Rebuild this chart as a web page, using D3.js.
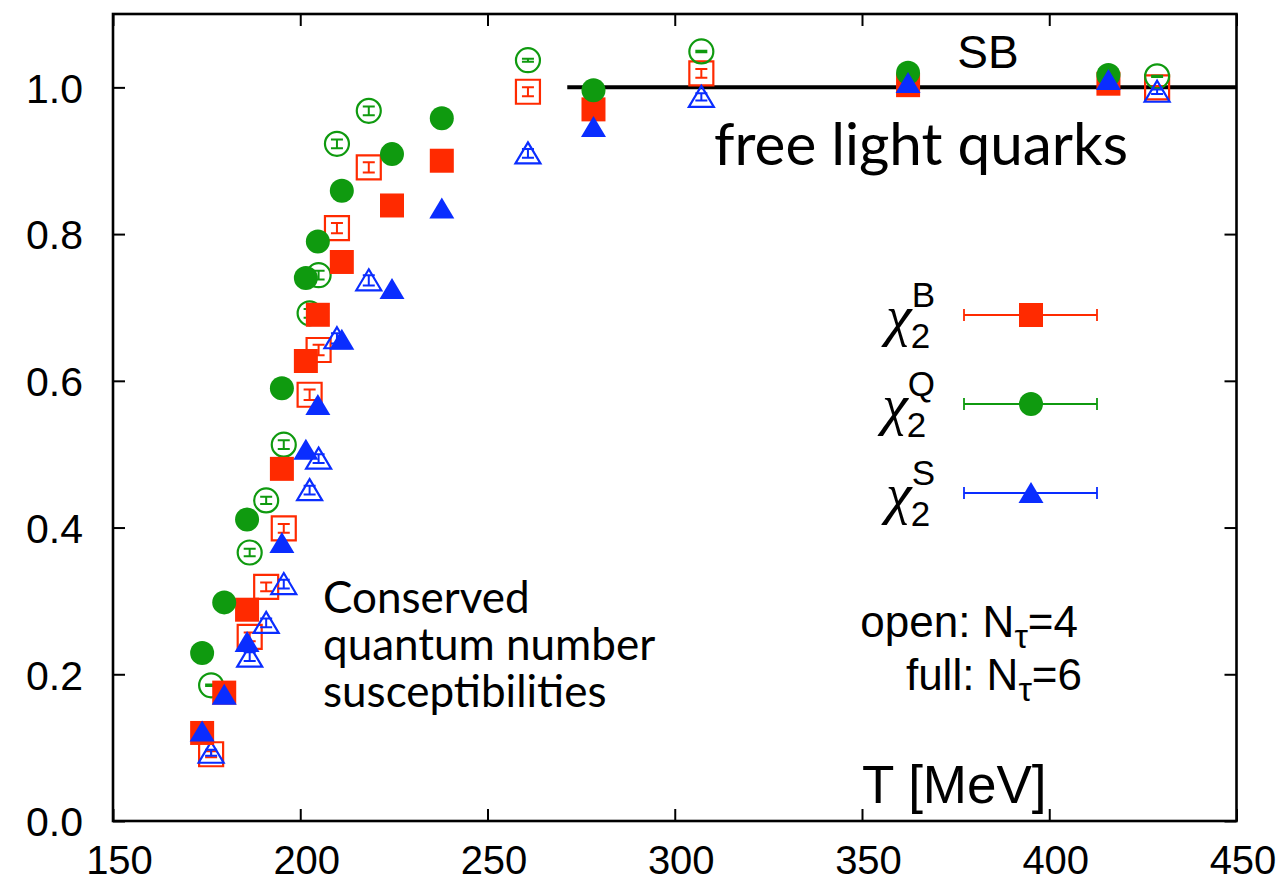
<!DOCTYPE html>
<html>
<head>
<meta charset="utf-8">
<script src="https://cdnjs.cloudflare.com/ajax/libs/d3/7.8.5/d3.min.js"></script>
<style>
	html, body { margin: 0; padding: 0; background: #fff; }
	svg { display: block; }
</style>
</head>
<body>
<svg id="chart" width="1287" height="884"></svg>
<script>
// temperatures [MeV]
var T6 = [173.8, 179.7, 185.8, 195.1, 201.5, 204.7, 211.1, 224.5, 237.8, 278.3, 362.3, 415.8];
var T4 = [176.2, 186.5, 190.9, 195.6, 202.5, 204.9, 209.8, 218.3, 260.8, 307.1, 428.8];

// N_tau = 6 (full symbols)
var chiB6 = [0.120, 0.175, 0.288, 0.480, 0.627, 0.690, 0.762, 0.839, 0.900, 0.970, 1.003, 1.005];
var chiQ6 = [0.229, 0.298, 0.411, 0.590, 0.740, 0.790, 0.859, 0.909, 0.958, 0.996, 1.020, 1.017];
var chiS6 = [0.122, 0.172, 0.244, 0.379, 0.506, 0.567, 0.656, 0.725, 0.835, 0.946, 1.006, 1.010];

// N_tau = 4 (open symbols)
var chiB4 = [0.091, 0.251, 0.319, 0.399, 0.581, 0.642, 0.808, 0.891, 0.994, 1.019, 1.000];
var chiQ4 = [0.185, 0.366, 0.437, 0.513, 0.692, 0.744, 0.923, 0.968, 1.037, 1.049, 1.015];
var chiS4 = [0.093, 0.224, 0.270, 0.323, 0.451, 0.494, 0.658, 0.737, 0.910, 0.987, 0.994];
var errB4 = [0.004, 0.006, 0.006, 0.006, 0.007, 0.007, 0.007, 0.007, 0.006, 0.006, 0.002];
var errQ4 = [0.001, 0.005, 0.005, 0.006, 0.006, 0.006, 0.006, 0.006, 0.002, 0.001, 0.001];
var errS4 = [0.004, 0.006, 0.006, 0.006, 0.006, 0.006, 0.007, 0.007, 0.006, 0.005, 0.003];

// Stefan-Boltzmann limit
var sbT = [271.3, 450];
var sbValue = 1.0;

var xTicks = [150, 200, 250, 300, 350, 400, 450];
var yTicks = [0, 0.2, 0.4, 0.6, 0.8, 1.0];

var series = [
	{ name: "B", shape: "square", color: "#ff2a00", values6: chiB6, values4: chiB4, err4: errB4 },
	{ name: "Q", shape: "circle", color: "#0f9a0f", values6: chiQ6, values4: chiQ4, err4: errQ4 },
	{ name: "S", shape: "triangle", color: "#0a2dff", values6: chiS6, values4: chiS4, err4: errS4 }
];

var svg = d3.select("#chart");
var x = d3.scaleLinear().domain([150, 450]).range([113, 1236.5]);
var y = d3.scaleLinear().domain([0, 1.1]).range([821, 14]);

var tickFont = "'Liberation Sans', Arial, Helvetica, sans-serif";
var gillFont = "Lato, 'Open Sans', sans-serif";

// symbol path around (0,0)
function shapePath(shape) {
	if (shape === "square") return "M-12,-12H12V12H-12Z";
	if (shape === "circle") return "M12,0A12,12 0 1,1 -12,0A12,12 0 1,1 12,0Z";
	return "M0,-11L12.5,10L-12.5,10Z";
}

// ---- axes ----
var gx = svg.append("g").attr("transform", "translate(0," + y(0) + ")")
	.call(d3.axisBottom(x).tickValues(xTicks).tickSizeInner(-12).tickSizeOuter(0).tickPadding(0).tickFormat(d3.format("d")));
gx.selectAll("text")
	.attr("y", 53).attr("dy", null).attr("dx", 6)
	.style("font-family", tickFont).style("font-size", "40px").attr("fill", "#000");

var gy = svg.append("g").attr("transform", "translate(" + x(150) + ",0)")
	.call(d3.axisLeft(y).tickValues(yTicks).tickSizeInner(-12).tickSizeOuter(0).tickPadding(30).tickFormat(d3.format(".1f")));
gy.selectAll("text")
	.attr("dy", "0.36em")
	.style("font-family", tickFont).style("font-size", "41px").attr("fill", "#000");

// mirrored ticks on top and right
svg.append("g").attr("transform", "translate(0," + y(1.1) + ")")
	.call(d3.axisTop(x).tickValues(xTicks).tickSizeInner(-12).tickSizeOuter(0).tickFormat(""));
svg.append("g").attr("transform", "translate(" + x(450) + ",0)")
	.call(d3.axisRight(y).tickValues(yTicks).tickSizeInner(-12).tickSizeOuter(0).tickFormat(""));

svg.selectAll(".domain").remove();
svg.selectAll(".tick line").attr("stroke", "#000").attr("stroke-width", 2);

svg.append("rect")
	.attr("x", x(150)).attr("y", y(1.1))
	.attr("width", x(450) - x(150)).attr("height", y(0) - y(1.1))
	.attr("fill", "none").attr("stroke", "#000").attr("stroke-width", 2.6);

// ---- SB line ----
svg.append("line")
	.attr("x1", x(sbT[0])).attr("x2", x(sbT[1]))
	.attr("y1", y(sbValue)).attr("y2", y(sbValue))
	.attr("stroke", "#000").attr("stroke-width", 4);

// ---- open symbols, N_tau = 4 ----
series.forEach(function(s) {
	var pts = T4.map(function(t, i) { return { t: t, v: s.values4[i], e: s.err4[i] }; });
	var g = svg.append("g").attr("class", "open-" + s.name);
	var p = g.selectAll("g").data(pts).enter().append("g")
		.attr("transform", function(d) { return "translate(" + x(d.t) + "," + y(d.v) + ")"; });
	p.append("path")
		.attr("d", shapePath(s.shape))
		.attr("fill", "#fff").attr("fill-opacity", 0)
		.attr("stroke", s.color).attr("stroke-width", 2.2);
	// error bars
	p.append("path")
		.attr("d", function(d) {
			var h = y(0) - y(d.e);
			return "M0," + (-h) + "V" + h + "M-6," + (-h) + "H6M-6," + h + "H6";
		})
		.attr("fill", "none").attr("stroke", s.color).attr("stroke-width", 2);
});

// ---- full symbols, N_tau = 6 ----
series.forEach(function(s) {
	var pts = T6.map(function(t, i) { return { t: t, v: s.values6[i] }; });
	svg.append("g").attr("class", "full-" + s.name)
		.selectAll("path").data(pts).enter().append("path")
		.attr("transform", function(d) { return "translate(" + x(d.t) + "," + y(d.v) + ")"; })
		.attr("d", shapePath(s.shape))
		.attr("fill", s.color);
});

// ---- legend ----
var legendY = [315, 404, 493];
series.forEach(function(s, i) {
	var ly = legendY[i];
	var g = svg.append("g").attr("class", "legend");
	g.append("path")
		.attr("d", "M964," + ly + "H1097M964," + (ly - 6) + "V" + (ly + 6) + "M1097," + (ly - 6) + "V" + (ly + 6))
		.attr("stroke", s.color).attr("stroke-width", 1.8).attr("fill", "none");
	g.append("path")
		.attr("transform", "translate(1031," + ly + ")")
		.attr("d", shapePath(s.shape))
		.attr("fill", s.color);

	var sup = g.append("text").attr("y", ly - 8).text(s.name)
		.style("font-family", tickFont).style("font-size", "35px");
	var sub = g.append("text").attr("y", ly + 33).text("2")
		.style("font-family", tickFont).style("font-size", "35px");
	var w = Math.max(sup.node().getComputedTextLength(), sub.node().getComputedTextLength());
	var sx = 934 - w;
	sup.attr("x", sx + 1);
	sub.attr("x", sx);
	g.append("text").attr("x", sx + 1).attr("y", ly + 20)
		.attr("text-anchor", "end")
		.style("font-family", "'Liberation Serif', 'DejaVu Serif', serif")
		.style("font-style", "italic").style("font-size", "58px")
		.text("\u03c7");
});

// ---- labels ----
svg.append("text").attr("x", 988).attr("y", 68).attr("text-anchor", "middle")
	.style("font-family", tickFont).style("font-size", "46px").text("SB");

svg.append("text").attr("x", 714).attr("y", 165)
	.attr("textLength", 414).attr("lengthAdjust", "spacingAndGlyphs")
	.style("font-family", gillFont).style("font-size", "58px").text("free light quarks");

var cons = svg.append("text").style("font-family", gillFont).style("font-size", "44px");
["Conserved", "quantum number", "susceptibilities"].forEach(function(line, i) {
	cons.append("tspan").attr("x", 323).attr("y", 613 + i * 47).text(line);
});

function nTauLabel(prefix, n, xEnd, yBase) {
	var t = svg.append("text").attr("x", xEnd).attr("y", yBase).attr("text-anchor", "end")
		.style("font-family", tickFont).style("font-size", "44px");
	t.append("tspan").text(prefix + "N");
	t.append("tspan").attr("dy", 11).style("font-size", "34px").text("\u03c4");
	t.append("tspan").attr("dy", -11).text("=" + n);
}
nTauLabel("open: ", 4, 1078, 637);
nTauLabel("full: ", 6, 1082, 690);

svg.append("text").attr("x", 862).attr("y", 803)
	.style("font-family", tickFont).style("font-size", "53px").text("T [MeV]");
</script>
</body>
</html>
